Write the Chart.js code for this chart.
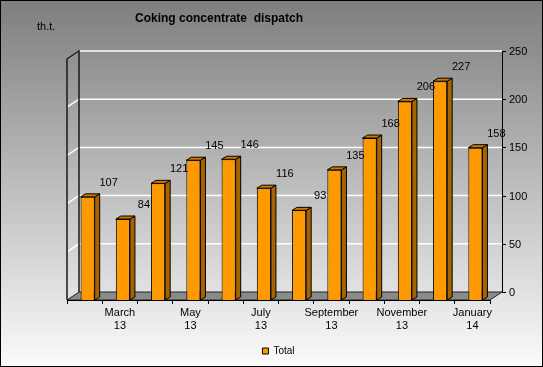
<!DOCTYPE html>
<html>
<head>
<meta charset="utf-8">
<script src="https://cdn.jsdelivr.net/npm/chart.js@4.4.1/dist/chart.umd.min.js"></script>
<style>
  html, body { margin: 0; padding: 0; background: #fff; }
  canvas { display: block; }
</style>
</head>
<body>
<canvas id="chart" width="543" height="367"></canvas>
<script>
// data
var categories = ['February 13', 'March 13', 'April 13', 'May 13', 'June 13', 'July 13',
                  'August 13', 'September 13', 'October 13', 'November 13', 'December 13', 'January 14'];
var totals = [107, 84, 121, 145, 146, 116, 93, 135, 168, 206, 227, 158];
var yTicks = [0, 50, 100, 150, 200, 250];

var DX = 12, DY = 8;          // offset of back wall from front plane
var SHIFT = 3;                // bars sit a little right of the category centre
var SIDE_X = 5, SIDE_Y = 3;   // bar depth

Chart.defaults.font.family = "'Liberation Sans', Arial, sans-serif";

var look3d = {
    id: 'look3d',
    beforeDraw: function(chart) {
        var ctx = chart.ctx, a = chart.chartArea, y = chart.scales.y;
        ctx.save();
        // background
        var g = ctx.createLinearGradient(0, 0, 0, chart.height);
        g.addColorStop(0, '#7e7e7e');
        g.addColorStop(1, '#fbfbfb');
        ctx.fillStyle = g;
        ctx.fillRect(0, 0, chart.width, chart.height);

        var top = y.getPixelForValue(250), bot = y.getPixelForValue(0);

        // floor
        ctx.beginPath();
        ctx.moveTo(a.left, bot);
        ctx.lineTo(a.right, bot);
        ctx.lineTo(a.right + DX, bot - DY);
        ctx.lineTo(a.left + DX, bot - DY);
        ctx.closePath();
        ctx.fillStyle = '#8a8a8a';
        ctx.fill();
        ctx.strokeStyle = '#222';
        ctx.lineWidth = 1;
        ctx.stroke();

        // back wall grid + left wall grid
        ctx.strokeStyle = '#ffffff';
        ctx.lineWidth = 1.5;
        yTicks.forEach(function(v) {
            if (v === 0) return;
            var py = y.getPixelForValue(v);
            ctx.beginPath();
            ctx.moveTo(a.left, py);
            ctx.lineTo(a.left + DX, py - DY);
            ctx.lineTo(a.right + DX, py - DY);
            ctx.stroke();
        });

        // left wall edges
        ctx.strokeStyle = '#1a1a1a';
        ctx.lineWidth = 1.5;
        ctx.beginPath();
        ctx.moveTo(a.left, bot);
        ctx.lineTo(a.left, top);
        ctx.lineTo(a.left + DX, top - DY);
        ctx.lineTo(a.left + DX, bot - DY);
        ctx.stroke();

        // right value axis on the back plane
        var ax = a.right + DX;
        ctx.lineWidth = 1;
        ctx.strokeStyle = '#000';
        ctx.beginPath();
        ctx.moveTo(ax + 0.5, top - DY);
        ctx.lineTo(ax + 0.5, bot - DY);
        ctx.stroke();
        ctx.fillStyle = '#000';
        ctx.font = "11px 'Liberation Sans', Arial, sans-serif";
        ctx.textAlign = 'left';
        ctx.textBaseline = 'middle';
        yTicks.forEach(function(v) {
            var py = Math.round(y.getPixelForValue(v) - DY) + 0.5;
            ctx.beginPath();
            ctx.moveTo(ax, py);
            ctx.lineTo(ax + 4, py);
            ctx.stroke();
            ctx.fillText(String(v), ax + 7, py);
        });
        ctx.restore();
    },
    beforeDatasetsDraw: function(chart) {
        chart.ctx.save();
        chart.ctx.translate(SHIFT, 0);
    },
    afterDatasetsDraw: function(chart) {
        var ctx = chart.ctx;
        ctx.restore();
        ctx.save();
        ctx.lineWidth = 1;
        ctx.strokeStyle = '#000';
        var bars = chart.getDatasetMeta(0).data;
        bars.forEach(function(bar) {
            var p = bar.getProps(['x', 'y', 'base', 'width'], true);
            var l = p.x - p.width / 2 + SHIFT, r = p.x + p.width / 2 + SHIFT;
            ctx.beginPath();
            ctx.moveTo(r, p.y);
            ctx.lineTo(r + SIDE_X, p.y - SIDE_Y);
            ctx.lineTo(r + SIDE_X, p.base - SIDE_Y);
            ctx.lineTo(r, p.base);
            ctx.closePath();
            ctx.fillStyle = '#a86300';
            ctx.fill();
            ctx.stroke();
            ctx.beginPath();
            ctx.moveTo(l, p.y);
            ctx.lineTo(l + SIDE_X, p.y - SIDE_Y);
            ctx.lineTo(r + SIDE_X, p.y - SIDE_Y);
            ctx.lineTo(r, p.y);
            ctx.closePath();
            ctx.fillStyle = '#cc7a00';
            ctx.fill();
            ctx.stroke();
        });
        // value labels
        ctx.fillStyle = '#000';
        ctx.font = "11px 'Liberation Sans', Arial, sans-serif";
        ctx.textAlign = 'center';
        ctx.textBaseline = 'middle';
        bars.forEach(function(bar, i) {
            var p = bar.getProps(['x', 'y'], true);
            ctx.fillText(String(totals[i]), p.x + SHIFT + 21, p.y - 14);
        });
        ctx.restore();
    },
    afterDraw: function(chart) {
        var ctx = chart.ctx;
        ctx.save();
        ctx.fillStyle = '#000';
        ctx.textBaseline = 'middle';
        ctx.textAlign = 'left';
        ctx.font = "bold 12px 'Liberation Sans', Arial, sans-serif";
        ctx.fillText('Coking concentrate  dispatch', 135, 19);
        ctx.font = "11px 'Liberation Sans', Arial, sans-serif";
        ctx.fillText('th.t.', 37, 27);
        ctx.strokeStyle = '#000';
        ctx.lineWidth = 1;
        ctx.strokeRect(0.5, 0.5, chart.width - 1, chart.height - 1);
        ctx.restore();
    }
};

var ctx = document.getElementById('chart').getContext('2d');

var chart = new Chart(ctx, {
    type: 'bar',
    data: {
        labels: categories,
        datasets: [{
            label: 'Total',
            data: totals,
            backgroundColor: '#ff9900',
            borderColor: '#000',
            borderWidth: 1,
            barPercentage: 0.4,
            categoryPercentage: 1,
            clip: false
        }]
    },
    options: {
        responsive: false,
        animation: false,
        layout: { padding: { left: 67, right: 53, top: 59, bottom: 1 } },
        scales: {
            x: {
                offset: true,
                grid: { display: true, drawOnChartArea: false, tickLength: 4, color: '#000', offset: true },
                border: { display: true, color: '#000' },
                ticks: {
                    autoSkip: false,
                    maxRotation: 0,
                    padding: 2,
                    color: '#000',
                    font: { size: 11 },
                    callback: function(v, i) {
                        return i % 2 ? categories[i].split(' ') : '';
                    }
                },
                afterFit: function(scale) { scale.height = 34; }
            },
            y: {
                display: false,
                min: 0,
                max: 250
            }
        },
        plugins: {
            legend: {
                position: 'bottom',
                labels: { boxWidth: 6, boxHeight: 6, padding: 12, color: '#000', font: { size: 10 } }
            },
            tooltip: { enabled: false }
        }
    },
    plugins: [look3d]
});
</script>
</body>
</html>
